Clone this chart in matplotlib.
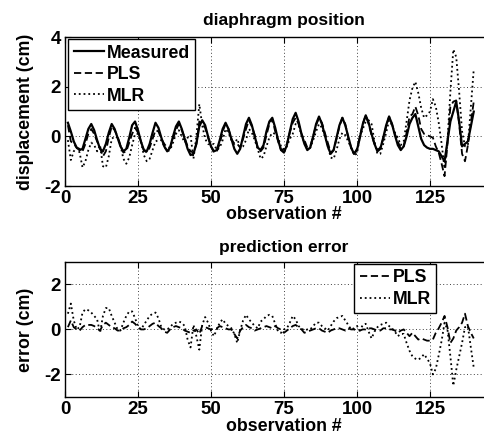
import numpy as np
import matplotlib
matplotlib.use("Agg")
import matplotlib.pyplot as plt

plt.rcParams['font.family'] = ['Liberation Sans', 'DejaVu Sans']
plt.rcParams['font.size'] = 12.8
plt.rcParams['font.weight'] = 'bold'
plt.rcParams['axes.labelweight'] = 'bold'
plt.rcParams['axes.unicode_minus'] = False

# observation index
obs = np.arange(1, 141)

# measured diaphragm displacement (cm)
measured = [
    0.55, 0.2, -0.2, -0.45, -0.55, -0.5, -0.1, 0.3, 0.5, 0.25,
    -0.15, -0.5, -0.6, -0.3, 0.15, 0.5, 0.3, -0.05, -0.4, -0.6,
    -0.5, -0.05, 0.45, 0.6, 0.25, -0.2, -0.55, -0.6, -0.3, 0.15,
    0.55, 0.35, -0.05, -0.4, -0.6, -0.45, 0.0, 0.4, 0.6, 0.3,
    -0.1, -0.5, -0.75, -0.7, -0.3, 0.4, 0.65, 0.45, 0.0, -0.4,
    -0.6, -0.55, -0.15, 0.3, 0.55, 0.3, -0.1, -0.5, -0.7, -0.5,
    0.0, 0.5, 0.75, 0.45, 0.0, -0.45, -0.55, -0.35, 0.2, 0.6,
    0.75, 0.35, -0.15, -0.55, -0.65, -0.35, 0.2, 0.7, 0.95, 0.6,
    0.1, -0.3, -0.55, -0.45, 0.0, 0.5, 0.8, 0.5, 0.05, -0.4,
    -0.7, -0.55, -0.05, 0.45, 0.75, 0.45, 0.0, -0.45, -0.7, -0.55,
    -0.05, 0.5, 0.85, 0.55, 0.1, -0.3, -0.6, -0.5, -0.05, 0.45,
    0.8, 0.5, 0.05, -0.35, -0.55, -0.4, 0.0, 0.5, 0.75, 0.9,
    0.4, -0.1, -0.35, -0.45, -0.5, -0.5, -0.55, -0.6, -0.8, -1.0,
    -0.2, 0.6, 1.0, 1.4, 0.6, -0.4, -0.3, -0.2, 0.4, 1.0,
]

# prediction errors (measured - predicted)
pls_err = [
    0.1, 0.4, 0.1, 0.0, -0.05, 0.1, 0.2, 0.2, 0.2, 0.15,
    0.05, -0.05, 0.2, 0.3, 0.2, 0.1, 0.05, -0.05, -0.05, 0.05,
    0.1, 0.2, 0.35, 0.25, 0.1, 0.0, 0.0, 0.05, 0.15, 0.25,
    0.3, 0.15, 0.05, -0.1, -0.15, 0.0, 0.1, 0.15, 0.1, 0.05,
    -0.05, -0.1, -0.15, -0.05, 0.0, -0.2, 0.15, 0.1, 0.05, 0.0,
    0.05, 0.05, 0.15, 0.1, 0.05, 0.0, 0.0, -0.2, -0.4, -0.05,
    0.1, 0.2, 0.1, 0.05, -0.05, 0.0, 0.05, 0.1, 0.15, 0.1,
    0.05, 0.15, 0.05, 0.0, -0.15, -0.05, 0.05, 0.15, 0.2, 0.1,
    0.0, -0.15, -0.1, -0.05, 0.0, 0.05, 0.05, -0.05, -0.1, -0.15,
    -0.05, 0.0, 0.05, 0.05, 0.0, -0.05, 0.05, 0.0, 0.0, -0.05,
    -0.05, 0.0, 0.0, 0.05, 0.05, 0.0, -0.05, -0.05, 0.05, 0.05,
    0.0, 0.0, -0.05, -0.15, -0.05, 0.0, -0.15, -0.3, -0.15, -0.3,
    -0.45, -0.4, -0.45, -0.5, -0.5, -0.45, -0.15, 0.05, 0.3, 0.6,
    0.1, -0.6, -0.4, -0.05, 0.1, 0.3, 0.7, 0.15, -0.15, -0.4,
]

mlr_err = [
    0.7, 1.15, 0.4, 0.0, 0.1, 0.75, 0.9, 0.85, 0.75, 0.6,
    0.45, -0.15, 0.6, 0.95, 0.95, 0.6, 0.3, 0.0, -0.05, 0.3,
    0.6, 0.8, 0.8, 0.5, 0.15, 0.0, 0.2, 0.4, 0.6, 0.7,
    0.75, 0.5, 0.1, 0.0, 0.0, 0.1, 0.25, 0.3, 0.35, 0.3,
    0.15, -0.45, -0.8, 0.2, -0.3, -0.9, 0.2, 0.55, 0.3, -0.05,
    -0.3, 0.0, 0.3, 0.45, 0.25, 0.15, 0.05, -0.2, -0.6, -0.05,
    0.4, 0.65, 0.45, 0.3, 0.15, 0.05, 0.35, 0.45, 0.6, 0.65,
    0.6, 0.25, -0.1, -0.15, 0.0, 0.05, 0.3, 0.6, 0.45, 0.15,
    0.05, -0.05, 0.0, 0.0, 0.15, 0.3, 0.3, 0.15, 0.05, -0.05,
    0.15, 0.35, 0.5, 0.55, 0.6, 0.4, 0.2, 0.0, 0.05, 0.15,
    -0.05, 0.2, 0.25, -0.1, -0.4, -0.1, 0.1, 0.2, 0.25, 0.3,
    0.15, 0.05, -0.1, -0.3, -0.2, -0.2, -0.6, -0.95, -1.2, -1.3,
    -1.35, -1.25, -1.1, -1.3, -1.5, -2.0, -1.75, -1.15, -0.5, 0.3,
    0.0, -1.2, -2.5, -1.8, -1.2, -0.6, 0.1, 0.15, -0.8, -1.7,
]

measured = np.array(measured)
pls_err = np.array(pls_err)
mlr_err = np.array(mlr_err)
pls = measured - pls_err
mlr = measured - mlr_err

fig = plt.figure(figsize=(4.85, 4.41), dpi=100)
ax1 = fig.add_axes([0.134, 0.578, 0.903, 0.338])
ax2 = fig.add_axes([0.134, 0.100, 0.903, 0.306])

grid_kw = dict(color='0.25', linestyle=(0, (1, 2.5)), linewidth=0.7)
leg_kw = dict(fancybox=False, edgecolor='k', framealpha=1, handlelength=1.7,
              handletextpad=0.15, labelspacing=0.25, borderpad=0.3,
              borderaxespad=0)

# top panel
ax1.plot(obs, measured, '-', color='k', lw=1.6, label='Measured')
ax1.plot(obs, pls, '--', color='k', lw=1.3, dashes=(4, 2), label='PLS')
ax1.plot(obs, mlr, ':', color='k', lw=1.3, label='MLR')
ax1.set_xlim(0, 150)
ax1.set_ylim(-2, 4)
ax1.set_yticks([-2, 0, 2, 4])
ax1.set_title('diaphragm position', fontsize=12.5, fontweight='bold', pad=9)
ax1.set_xlabel('observation #', labelpad=-1)
ax1.set_ylabel('displacement (cm)', labelpad=7)
ax1.legend(loc='upper left', bbox_to_anchor=(0.008, 0.985), **leg_kw)

# bottom panel
ax2.plot(obs, pls_err, '--', color='k', lw=1.3, dashes=(4, 2), label='PLS')
ax2.plot(obs, mlr_err, ':', color='k', lw=1.3, label='MLR')
ax2.set_xlim(0, 150)
ax2.set_ylim(-3, 3)
ax2.set_yticks([-2, 0, 2])
ax2.set_title('prediction error', fontsize=12.5, fontweight='bold', pad=7)
ax2.set_xlabel('observation #', labelpad=0)
ax2.set_ylabel('error (cm)', labelpad=7)
ax2.legend(loc='upper left', bbox_to_anchor=(0.661, 0.985), **leg_kw)

for ax in (ax1, ax2):
    ax.set_xticks([0, 25, 50, 75, 100, 125])
    ax.grid(True, **grid_kw)
    ax.tick_params(direction='in', top=True, right=True, length=4, width=0.8,
                   labelsize=13.5, pad=3)
    for s in ax.spines.values():
        s.set_linewidth(1.0)

fig.savefig('out.png', dpi=100)
